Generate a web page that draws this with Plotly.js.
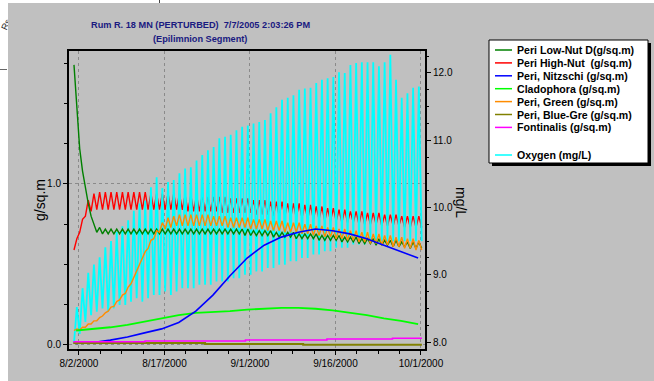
<!DOCTYPE html>
<html>
<head>
<meta charset="utf-8">
<script src="https://cdn.plot.ly/plotly-3.0.1.min.js"></script>
<style>
html,body{margin:0;padding:0;background:#ffffff;width:654px;height:381px;overflow:hidden;position:relative;}
#chart{position:absolute;left:8px;top:3px;width:646px;height:378px;}
#mark{position:absolute;left:1px;top:20px;width:10px;height:10px;line-height:10px;font:9px "Liberation Sans",Arial,sans-serif;color:#222;transform:rotate(-65deg);transform-origin:5px 5px;}
#dash{position:absolute;left:0px;top:69px;width:7px;height:1px;background:#666;}
#tick{position:absolute;left:159px;top:0px;width:1px;height:3px;background:#444;}
</style>
</head>
<body>
<div id="mark">Rs</div>
<div id="dash"></div>
<div id="tick"></div>
<div id="chart"></div>
<script>
// ---------- DATA ----------
const titleLine1 = "Rum R. 18 MN (PERTURBED)  7/7/2005 2:03:26 PM";
const titleLine2 = "(Epilimnion Segment)";
const leftTitle = "g/sq.m";
const rightTitle = "mg/L";
const xTickVals = ["2000-08-02", "2000-08-17", "2000-09-01", "2000-09-16", "2000-10-01"];
const xTickText = ["8/2/2000", "8/17/2000", "9/1/2000", "9/16/2000", "10/1/2000"];
const yTickVals = [0, 1];
const yTickText = ["0.0", "1.0"];
const y2TickVals = [8, 9, 10, 11, 12];
const y2TickText = ["8.0", "9.0", "10.0", "11.0", "12.0"];

const seriesNames = ["Peri Low-Nut D(g/sq.m)", "Peri High-Nut  (g/sq.m)", "Peri, Nitzschi (g/sq.m)",
  "Cladophora (g/sq.m)", "Peri, Green (g/sq.m)", "Peri, Blue-Gre (g/sq.m)", "Fontinalis (g/sq.m)", "Oxygen (mg/L)"];
const seriesColors = ["#008000", "#ff0000", "#0000ff", "#00ff00", "#ff8c00", "#808000", "#ff00ff", "#00ffff"];

// daily night-low (03:00) and afternoon-high (15:00) readings, day 0 = 8/1/2000
const oxygenLo = [7.98,8.12,8.30,8.40,8.45,8.50,8.45,8.50,8.55,8.55,
  8.60,8.65,8.60,8.65,8.70,8.70,8.75,8.70,8.75,8.80,
  8.80,8.80,8.85,8.85,8.85,8.90,8.90,8.90,8.95,8.95,
  9.00,9.00,9.05,9.05,9.10,9.10,9.15,9.15,9.20,9.20,
  9.25,9.25,9.30,9.30,9.35,9.35,9.40,9.40,9.40,9.45,
  9.45,9.45,9.50,9.50,9.50,9.50,9.50,9.50,9.50,9.50,
  9.50,9.50];
const oxygenHi = [8.52,8.80,9.03,9.15,9.26,9.41,9.50,9.64,9.72,9.81,
  9.95,10.06,10.10,10.30,10.45,10.29,10.38,10.41,10.51,10.58,
  10.60,10.70,10.78,10.85,10.90,11.03,11.05,11.08,11.15,11.20,
  11.22,11.25,11.27,11.30,11.40,11.49,11.60,11.63,11.67,11.75,
  11.77,11.78,11.85,11.90,11.92,11.94,12.01,12.00,12.12,12.15,
  12.16,12.16,12.16,12.10,12.16,12.27,11.90,11.63,11.70,11.78,
  11.80];
const highNutLo = [0.59,0.70,0.80,0.83,0.84,0.84,0.84,0.84,0.84,0.84,
  0.84,0.84,0.84,0.84,0.84,0.84,0.84,0.84,0.84,0.84,
  0.83,0.83,0.83,0.83,0.83,0.83,0.82,0.82,0.82,0.82,
  0.82,0.82,0.81,0.81,0.81,0.80,0.80,0.80,0.79,0.79,
  0.79,0.78,0.78,0.78,0.77,0.77,0.77,0.76,0.76,0.76,
  0.75,0.75,0.75,0.75,0.74,0.74,0.74,0.74,0.73,0.73,
  0.73,0.73];
const highNutHi = [0.66,0.78,0.90,0.94,0.95,0.95,0.95,0.95,0.95,0.95,
  0.95,0.95,0.95,0.94,0.94,0.94,0.94,0.94,0.94,0.93,
  0.93,0.93,0.93,0.92,0.92,0.92,0.92,0.91,0.91,0.91,
  0.91,0.90,0.90,0.90,0.89,0.89,0.89,0.88,0.88,0.88,
  0.87,0.87,0.86,0.86,0.85,0.85,0.84,0.84,0.83,0.83,
  0.83,0.82,0.82,0.82,0.81,0.81,0.81,0.80,0.80,0.80,
  0.80];
const lowNutLo = [1.74,1.22,0.97,0.80,0.70,0.69,0.69,0.69,0.69,0.69,
  0.69,0.69,0.69,0.69,0.69,0.69,0.69,0.69,0.69,0.69,
  0.69,0.69,0.69,0.69,0.69,0.69,0.69,0.69,0.69,0.69,
  0.68,0.68,0.68,0.68,0.68,0.67,0.67,0.67,0.67,0.66,
  0.66,0.66,0.66,0.65,0.65,0.65,0.65,0.64,0.64,0.64,
  0.63,0.63,0.63,0.62,0.62,0.62,0.61,0.61,0.61,0.60,
  0.60,0.60];
const lowNutHi = [1.47,1.08,0.88,0.75,0.73,0.72,0.72,0.72,0.72,0.72,
  0.72,0.72,0.72,0.72,0.72,0.72,0.72,0.72,0.72,0.72,
  0.72,0.72,0.72,0.72,0.72,0.72,0.72,0.72,0.72,0.72,
  0.72,0.71,0.71,0.71,0.71,0.70,0.70,0.70,0.70,0.69,
  0.69,0.69,0.69,0.68,0.68,0.68,0.68,0.67,0.67,0.67,
  0.66,0.66,0.66,0.66,0.65,0.65,0.65,0.64,0.64,0.64,
  0.64];
const greenLo = [0.09,0.095,0.11,0.13,0.15,0.18,0.21,0.24,0.28,0.32,
  0.38,0.45,0.53,0.60,0.66,0.70,0.72,0.73,0.74,0.74,
  0.74,0.74,0.74,0.74,0.74,0.74,0.74,0.73,0.73,0.73,
  0.73,0.72,0.72,0.72,0.71,0.71,0.71,0.70,0.70,0.70,
  0.69,0.69,0.68,0.68,0.67,0.67,0.66,0.66,0.65,0.65,
  0.64,0.64,0.63,0.63,0.62,0.62,0.61,0.61,0.60,0.60,
  0.59,0.59];
const greenHi = [0.10,0.11,0.13,0.15,0.17,0.20,0.235,0.27,0.31,0.36,
  0.42,0.50,0.58,0.65,0.71,0.76,0.79,0.80,0.81,0.81,
  0.81,0.81,0.81,0.81,0.80,0.80,0.80,0.79,0.79,0.79,
  0.79,0.78,0.78,0.78,0.77,0.77,0.77,0.76,0.76,0.76,
  0.75,0.75,0.74,0.74,0.73,0.73,0.72,0.72,0.71,0.71,
  0.70,0.70,0.69,0.69,0.68,0.68,0.67,0.67,0.66,0.66,
  0.65];
// slowly varying series, sampled every third day at noon
const sampleDates = ["2000-08-01","2000-08-04","2000-08-07","2000-08-10","2000-08-13","2000-08-16","2000-08-19",
  "2000-08-22","2000-08-25","2000-08-28","2000-08-31","2000-09-03","2000-09-06","2000-09-09","2000-09-12",
  "2000-09-15","2000-09-18","2000-09-21","2000-09-24","2000-09-27","2000-09-30"];
const nitzschi = [0.01,0.015,0.03,0.05,0.075,0.10,0.14,0.21,0.31,0.43,0.54,0.62,0.67,0.70,0.72,0.71,0.69,0.66,0.62,0.58,0.54];
const cladophora = [0.09,0.10,0.11,0.125,0.145,0.165,0.185,0.20,0.205,0.21,0.22,0.225,0.23,0.23,0.225,0.215,0.20,0.185,0.165,0.15,0.13];
// step series
const fontinalisDates = ["2000-08-01 00:00","2000-08-13 14:00","2000-08-31 05:00","2000-09-14 12:00","2000-09-26 00:00","2000-10-01 04:00"];
const fontinalis = [0.020,0.025,0.031,0.037,0.042,0.042];
const blueGreDates = ["2000-08-01 00:00","2000-08-24 03:00","2000-09-10 08:00","2000-10-01 04:00"];
const blueGre = [0.012,0.006,0.002,0.002];

// ---------- BUILD ----------
function stamp(k, h) {
  const t = new Date(Date.UTC(2000, 7, 1 + k, h));
  return t.toISOString().slice(0, 16).replace('T', ' ');
}
function interleave(lo, hi) {
  const x = [], y = [];
  for (let k = 0; k < lo.length; k++) {
    x.push(stamp(k, 3)); y.push(lo[k]);
    if (k < hi.length) { x.push(stamp(k, 15)); y.push(hi[k]); }
  }
  return {x, y};
}
const noon = sampleDates.map(d => d + " 12:00");
const ox = interleave(oxygenLo, oxygenHi);
const hn = interleave(highNutLo, highNutHi);
const ln = interleave(lowNutLo, lowNutHi);
const gr = interleave(greenLo, greenHi);

const W = 1.4;
const traces = [
  {x: hn.x, y: hn.y, yaxis: 'y', mode: 'lines', line: {color: seriesColors[1], width: W}},
  {x: ox.x, y: ox.y, yaxis: 'y2', mode: 'lines', line: {color: seriesColors[7], width: 1.8}},
  {x: ln.x, y: ln.y, yaxis: 'y3', mode: 'lines', line: {color: seriesColors[0], width: W}},
  {x: gr.x, y: gr.y, yaxis: 'y3', mode: 'lines', line: {color: seriesColors[4], width: W}},
  {x: noon, y: cladophora, yaxis: 'y3', mode: 'lines', line: {color: seriesColors[3], width: 1.8}},
  {x: noon, y: nitzschi, yaxis: 'y3', mode: 'lines', line: {color: seriesColors[2], width: 1.6}},
  {x: blueGreDates, y: blueGre, yaxis: 'y3', mode: 'lines', line: {color: seriesColors[5], width: 2, shape: 'hv'}},
  {x: fontinalisDates, y: fontinalis, yaxis: 'y3', mode: 'lines', line: {color: seriesColors[6], width: 1.5, shape: 'hv'}}
];

// page-pixel -> paper coords (plot area: x 69..425, y 51..349)
const PX = p => (p - 69) / 356;
const PY = p => (349 - p) / 298;

const font = "Liberation Sans, Arial, sans-serif";
const shapes = [
  {type: 'rect', xref: 'paper', yref: 'paper', x0: PX(492), x1: PX(651), y0: PY(166), y1: PY(43), fillcolor: '#000', line: {width: 0}},
  {type: 'rect', xref: 'paper', yref: 'paper', x0: PX(489), x1: PX(648), y0: PY(163), y1: PY(40), fillcolor: '#fff', line: {color: '#000', width: 1}}
];
const annotations = [
  {text: '<b>' + titleLine1 + '</b>', xref: 'paper', yref: 'paper', x: PX(200), y: PY(25), showarrow: false, xanchor: 'center', yanchor: 'middle', font: {family: font, size: 9.2, color: '#1a1a80'}},
  {text: '<b>' + titleLine2 + '</b>', xref: 'paper', yref: 'paper', x: PX(200), y: PY(39), showarrow: false, xanchor: 'center', yanchor: 'middle', font: {family: font, size: 9.2, color: '#1a1a80'}},
  {text: leftTitle, xref: 'paper', yref: 'paper', x: PX(40), y: PY(200), textangle: -90, showarrow: false, xanchor: 'center', yanchor: 'middle', font: {family: font, size: 14, color: '#000'}},
  {text: rightTitle, xref: 'paper', yref: 'paper', x: PX(461), y: PY(202), textangle: 90, showarrow: false, xanchor: 'center', yanchor: 'middle', font: {family: font, size: 14, color: '#000'}}
];
const rowY = [50, 62.9, 75.8, 88.7, 101.6, 114.5, 127.4, 155];
for (let i = 0; i < seriesNames.length; i++) {
  shapes.push({type: 'line', xref: 'paper', yref: 'paper', x0: PX(495), x1: PX(512), y0: PY(rowY[i]), y1: PY(rowY[i]), line: {color: seriesColors[i], width: 1.5}});
  annotations.push({text: '<b>' + seriesNames[i] + '</b>', xref: 'paper', yref: 'paper', x: PX(515), y: PY(rowY[i]), showarrow: false, xanchor: 'left', yanchor: 'middle', font: {family: font, size: 10.6, color: '#000'}});
}

const DAY = 86400000;
const layout = {
  width: 646, height: 378,
  margin: {l: 61, r: 229, t: 48, b: 32, pad: 0},
  paper_bgcolor: '#c0c0c0', plot_bgcolor: '#c0c0c0',
  showlegend: false,
  font: {family: font, size: 10, color: '#000'},
  xaxis: {
    type: 'date', range: ['2000-07-31 06:00', '2000-10-01 17:00'],
    tickmode: 'array', tickvals: xTickVals, ticktext: xTickText,
    ticks: 'outside', ticklen: 4, tickcolor: '#000', tickwidth: 1,
    showgrid: true, gridcolor: '#8a8a8a', griddash: 'dot', gridwidth: 1,
    showline: true, linecolor: '#000', linewidth: 2, mirror: true, zeroline: false,
    tickfont: {family: font, size: 10, color: '#000'},
    minor: {tickmode: 'linear', tick0: '2000-08-02', dtick: 3.75 * DAY, ticks: 'outside', ticklen: 3, tickcolor: '#000', showgrid: false}
  },
  yaxis: {
    range: [-0.025, 1.826], tickmode: 'array', tickvals: yTickVals, ticktext: yTickText,
    ticks: 'outside', ticklen: 4, tickcolor: '#000',
    showgrid: true, gridcolor: '#8a8a8a', griddash: 'dot', gridwidth: 1,
    showline: true, linecolor: '#000', linewidth: 2, mirror: true, zeroline: false,
    tickfont: {family: font, size: 10, color: '#000'},
    minor: {tickmode: 'linear', tick0: 0, dtick: 0.25, ticks: 'outside', ticklen: 3, tickcolor: '#000', showgrid: false}
  },
  yaxis2: {
    overlaying: 'y', side: 'right', anchor: 'x',
    range: [7.896, 12.327], tickmode: 'array', tickvals: y2TickVals, ticktext: y2TickText,
    ticks: 'outside', ticklen: 5, tickcolor: '#000',
    showgrid: false, showline: false, zeroline: false,
    tickfont: {family: font, size: 10, color: '#000'},
    minor: {tickmode: 'linear', tick0: 8, dtick: 0.25, ticks: 'outside', ticklen: 3, tickcolor: '#000', showgrid: false}
  },
  yaxis3: {
    overlaying: 'y', anchor: 'x', range: [-0.025, 1.826], visible: false, showgrid: false, zeroline: false
  },
  shapes: shapes,
  annotations: annotations
};
Plotly.newPlot('chart', traces, layout, {displayModeBar: false, staticPlot: true});
</script>
</body>
</html>
